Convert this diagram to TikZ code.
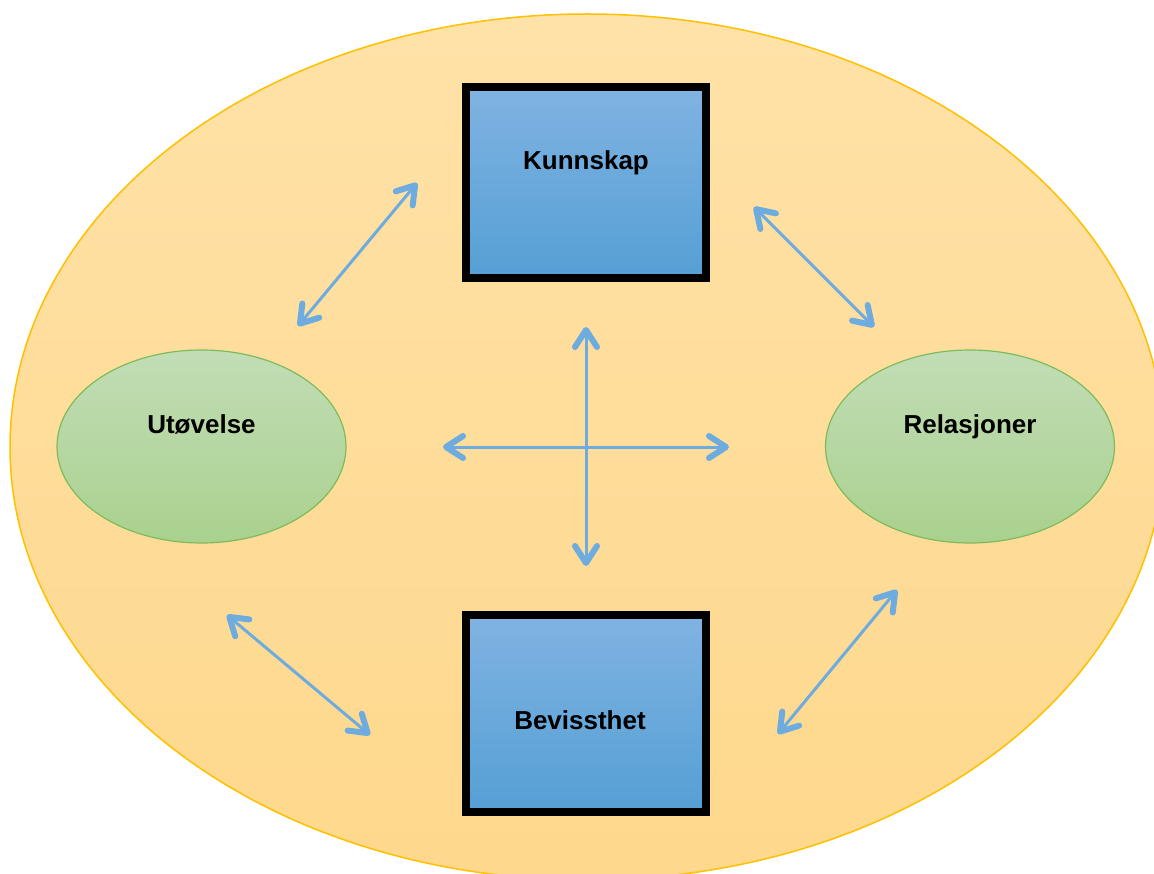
\documentclass[tikz,border=0pt]{standalone}
\usepackage{fontspec}
\setmainfont{Liberation Sans}
\usepackage{tikz}
\usetikzlibrary{arrows.meta,positioning,shapes.geometric}
\definecolor{fieldtop}{RGB}{255,226,168}
\definecolor{fieldbot}{RGB}{254,216,140}
\definecolor{fieldrim}{RGB}{255,192,0}
\definecolor{boxtop}{RGB}{128,179,226}
\definecolor{boxbot}{RGB}{85,159,213}
\definecolor{ovtop}{RGB}{194,221,182}
\definecolor{ovbot}{RGB}{169,209,142}
\definecolor{ovrim}{RGB}{126,187,90}
\definecolor{linkblue}{RGB}{110,172,223}

\begin{document}
\begin{tikzpicture}[
  x=1pt,y=-1pt,
  field/.style={ellipse,draw=fieldrim,line width=1.5pt,inner sep=0pt,
                top color=fieldtop,bottom color=fieldbot},
  box/.style={draw=black,line width=8pt,minimum width=240pt,inner sep=0pt,
              top color=boxtop,bottom color=boxbot},
  oval/.style={ellipse,draw=ovrim,line width=1.2pt,inner sep=0pt,
               minimum width=289pt,minimum height=193pt,
               top color=ovtop,bottom color=ovbot},
  lbl/.style={font=\fontsize{26}{30}\selectfont\bfseries,inner sep=0pt,anchor=base},
  barb/.tip={Straight Barb[length=17pt,width=22pt,line width'=6pt,round]},
  link/.style={barb-barb,draw=linkblue,line width=3pt,line cap=round}]

\useasboundingbox (0,0) rectangle (1154,874);

\node[field,minimum width=1154pt,minimum height=866pt] (field) at (587,447) {};

\node[box,minimum height=191pt] (kunnskap) at (586,182.5) {};
\node[box,minimum height=197pt] (bevissthet) at (586,713.5) {};
\node[oval] (utovelse) at (201.5,446.5) {};
\node[oval] (relasjoner) at (970,446.5) {};

\node[lbl] (kunnskap-t) at ([yshift=12.5pt]kunnskap.center) {Kunnskap};
\node[lbl] (bevissthet-t) at ([xshift=-6pt,yshift=-15.5pt]bevissthet.center) {Bevissthet};
\node[lbl] (utovelse-t) at ([yshift=12.5pt]utovelse.center) {Utøvelse};
\node[lbl] (relasjoner-t) at ([yshift=12.5pt]relasjoner.center) {Relasjoner};

% arrow ends
\coordinate (ul-a) at (298,326);
\coordinate (ul-b) at (417,183);
\coordinate (ur-a) at (754,207);
\coordinate (ur-b) at (874,327);
\coordinate (ll-a) at (227,615);
\coordinate (ll-b) at (370,735);
\coordinate (lr-a) at (897,590);
\coordinate (lr-b) at (778,734);
\coordinate (mid-n) at (586,327);
\coordinate (mid-s) at (586,566);
\coordinate (mid-w) at (443,447);
\coordinate (mid-e) at (729,447);

\draw[link] (ul-a) -- (ul-b);
\draw[link] (ur-a) -- (ur-b);
\draw[link] (ll-a) -- (ll-b);
\draw[link] (lr-a) -- (lr-b);
\draw[link] (mid-n) -- (mid-s);
\draw[link] (mid-w) -- (mid-e);
\end{tikzpicture}
\end{document}
